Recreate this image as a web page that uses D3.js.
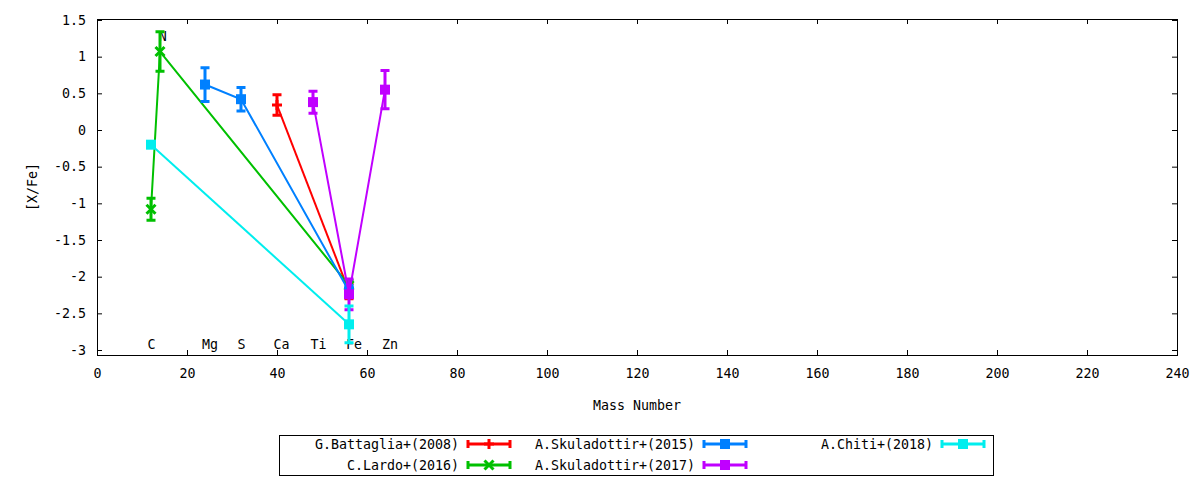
<!DOCTYPE html>
<html lang="en">
<head>
  <meta charset="UTF-8" />
  <title>[X/Fe] vs Mass Number</title>
  <script src="https://d3js.org/d3.v7.min.js"></script>
  <style>
    body { margin: 0; background: #fff; }
    svg { display: block; }
    text { font-family: "DejaVu Sans Mono", monospace; font-size: 13.3px; fill: #000; }
  </style>
</head>
<body>
  <svg id="chart" width="1200" height="480"></svg>

  <script>
    // data
    const battagliaX = [40, 56];
    const battagliaY = [0.34, -2.2];
    const battagliaErr = [0.14, 0.1];

    const lardoX = [12, 14, 56];
    const lardoY = [-1.08, 1.07, -2.12];
    const lardoErr = [0.15, 0.27, 0.07];

    const sku15X = [24, 32, 56];
    const sku15Y = [0.62, 0.42, -2.2];
    const sku15Err = [0.23, 0.16, 0.08];

    const sku17X = [48, 56, 64];
    const sku17Y = [0.38, -2.24, 0.55];
    const sku17Err = [0.15, 0.21, 0.26];

    const chitiX = [12, 56];
    const chitiY = [-0.2, -2.65];
    const chitiErr = [0, 0.25];

    const elemNames = ["C", "N", "Mg", "S", "Ca", "Ti", "Fe", "Zn"];
    const elemX = [12.1, 14.6, 25.1, 32.1, 41.0, 49.2, 57.1, 65.1];
    const elemY = [-2.93, 1.27, -2.93, -2.93, -2.93, -2.93, -2.93, -2.93];

    const xTicks = [0, 20, 40, 60, 80, 100, 120, 140, 160, 180, 200, 220, 240];
    const yTicks = [-3, -2.5, -2, -1.5, -1, -0.5, 0, 0.5, 1, 1.5];

    const series = [
      { name: "G.Battaglia+(2008)", color: "#ff0000", marker: "plus", xs: battagliaX, ys: battagliaY, err: battagliaErr },
      { name: "C.Lardo+(2016)", color: "#00c000", marker: "cross", xs: lardoX, ys: lardoY, err: lardoErr },
      { name: "A.Skuladottir+(2015)", color: "#0080ff", marker: "square", xs: sku15X, ys: sku15Y, err: sku15Err },
      { name: "A.Skuladottir+(2017)", color: "#c000ff", marker: "square", xs: sku17X, ys: sku17Y, err: sku17Err },
      { name: "A.Chiti+(2018)", color: "#00eeee", marker: "square", xs: chitiX, ys: chitiY, err: chitiErr }
    ];

    const plotL = 97, plotR = 1177, plotT = 19, plotB = 355;

    const svg = d3.select("#chart");

    const x = d3.scaleLinear().domain([0, 240]).range([plotL, plotR]);
    const y = d3.scaleLinear().domain([-3.068, 1.5136]).range([plotB, plotT]);

    const fmt = d => String(d);

    // axes with inward ticks, mirrored on top and right
    svg.append("g")
      .attr("transform", `translate(0,${plotB})`)
      .call(d3.axisBottom(x).tickValues(xTicks).tickFormat(fmt).tickSizeInner(-5).tickSizeOuter(0).tickPadding(14));
    svg.append("g")
      .attr("transform", `translate(0,${plotT})`)
      .call(d3.axisTop(x).tickValues(xTicks).tickFormat("").tickSizeInner(-5).tickSizeOuter(0));
    svg.append("g")
      .attr("transform", `translate(${plotL},0)`)
      .call(d3.axisLeft(y).tickValues(yTicks).tickFormat(fmt).tickSizeInner(-5).tickSizeOuter(0).tickPadding(11));
    svg.append("g")
      .attr("transform", `translate(${plotR},0)`)
      .call(d3.axisRight(y).tickValues(yTicks).tickFormat("").tickSizeInner(-5).tickSizeOuter(0));

    svg.selectAll(".domain").remove();
    svg.selectAll(".tick line").attr("stroke", "#000");
    svg.selectAll("g").attr("font-family", null).attr("font-size", null);

    svg.append("rect")
      .attr("x", plotL + 0.5).attr("y", plotT + 0.5)
      .attr("width", plotR - plotL).attr("height", plotB - plotT)
      .attr("fill", "none").attr("stroke", "#000");

    svg.append("text")
      .attr("x", (plotL + plotR) / 2).attr("y", 405)
      .attr("text-anchor", "middle").attr("dominant-baseline", "central")
      .text("Mass Number");

    svg.append("text")
      .attr("transform", `translate(32,${(plotT + plotB) / 2}) rotate(-90)`)
      .attr("text-anchor", "middle").attr("dominant-baseline", "central")
      .text("[X/Fe]");

    // element labels
    svg.append("g").selectAll("text")
      .data(elemNames)
      .enter().append("text")
      .attr("x", (d, i) => x(elemX[i]))
      .attr("y", (d, i) => y(elemY[i]))
      .attr("text-anchor", "middle")
      .attr("dominant-baseline", "central")
      .text(d => d);

    function drawMarker(g, type, color, cx, cy) {
      if (type === "square") {
        g.append("rect")
          .attr("x", cx - 5).attr("y", cy - 5)
          .attr("width", 10).attr("height", 10)
          .attr("fill", color);
      } else if (type === "plus") {
        g.append("path")
          .attr("d", `M${cx - 5},${cy}H${cx + 5}M${cx},${cy - 5}V${cy + 5}`)
          .attr("stroke", color).attr("stroke-width", 3).attr("fill", "none");
      } else {
        g.append("path")
          .attr("d", `M${cx - 4.5},${cy - 4.5}L${cx + 4.5},${cy + 4.5}M${cx - 4.5},${cy + 4.5}L${cx + 4.5},${cy - 4.5}`)
          .attr("stroke", color).attr("stroke-width", 3).attr("fill", "none");
      }
    }

    const line = d3.line().x(d => x(d[0])).y(d => y(d[1]));

    series.forEach(s => {
      const g = svg.append("g");
      const pts = s.xs.map((v, i) => [v, s.ys[i], s.err[i]]);

      g.append("path")
        .attr("d", line(pts))
        .attr("fill", "none")
        .attr("stroke", s.color)
        .attr("stroke-width", 2);

      pts.forEach(p => {
        if (p[2] > 0) {
          const px = x(p[0]), y0 = y(p[1] + p[2]), y1 = y(p[1] - p[2]);
          g.append("path")
            .attr("d", `M${px},${y0}V${y1}M${px - 4.5},${y0}H${px + 4.5}M${px - 4.5},${y1}H${px + 4.5}`)
            .attr("stroke", s.color)
            .attr("stroke-width", 3)
            .attr("fill", "none");
        }
        drawMarker(g, s.marker, s.color, x(p[0]), y(p[1]));
      });
    });

    // legend, filled column by column
    const legend = svg.append("g");
    legend.append("rect")
      .attr("x", 279.5).attr("y", 435.5)
      .attr("width", 714).attr("height", 40)
      .attr("fill", "none").attr("stroke", "#000");

    const colText = [459, 695, 933];
    const rowY = [444, 465];

    series.forEach((s, i) => {
      const col = Math.floor(i / 2), row = i % 2;
      const tx = colText[col], ty = rowY[row];
      legend.append("text")
        .attr("x", tx).attr("y", ty)
        .attr("text-anchor", "end")
        .attr("dominant-baseline", "central")
        .text(s.name);
      const x0 = tx + 9, x1 = tx + 51;
      legend.append("path")
        .attr("d", `M${x0},${ty}H${x1}M${x0},${ty - 4}V${ty + 4}M${x1},${ty - 4}V${ty + 4}`)
        .attr("stroke", s.color).attr("stroke-width", 3).attr("fill", "none");
      drawMarker(legend, s.marker, s.color, (x0 + x1) / 2, ty);
    });
  </script>
</body>
</html>
